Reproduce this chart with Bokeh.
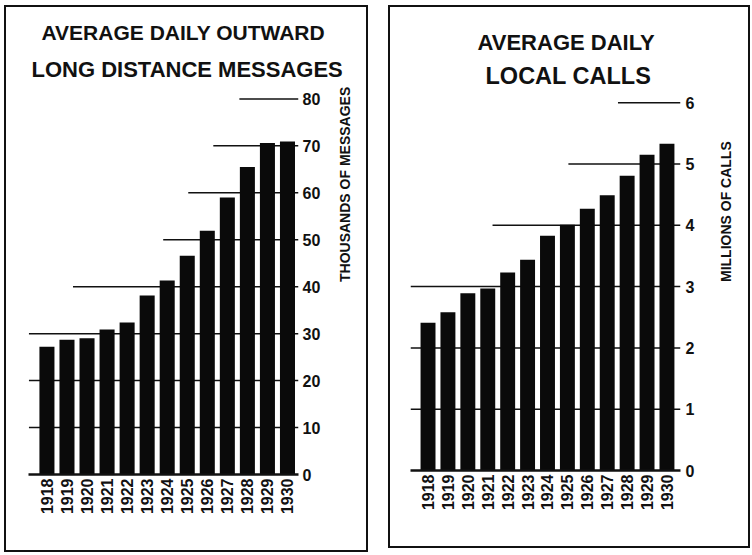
import math
from bokeh.plotting import figure
from bokeh.layouts import row, column
from bokeh.models import FixedTicker, Title, Range1d
from bokeh.embed import file_html
from bokeh.resources import INLINE

# ---- data ----
years = [1918, 1919, 1920, 1921, 1922, 1923, 1924, 1925, 1926, 1927, 1928, 1929, 1930]
long_distance_thousands = [27.2, 28.7, 29.0, 30.9, 32.4, 38.1, 41.3, 46.6, 51.9, 59.0, 65.5, 70.6, 70.9]
local_calls_millions = [2.41, 2.58, 2.89, 2.97, 3.23, 3.44, 3.83, 4.01, 4.27, 4.49, 4.81, 5.15, 5.33]

ld_ticks = [0, 10, 20, 30, 40, 50, 60, 70, 80]
lc_ticks = [0, 1, 2, 3, 4, 5, 6]

# reference lines (value, year at which the drawn line begins)
ld_grid = [10, 20, 30, 40, 50, 60, 70, 80]
ld_grid_from = [1917.1, 1917.1, 1917.1, 1919.3, 1923.8, 1925.05, 1926.3, 1927.6]
lc_grid = [1, 2, 3, 4, 5, 6]
lc_grid_from = [1917.12, 1917.12, 1917.12, 1921.24, 1925.05, 1927.54]

FONT = "Liberation Sans"


def make_panel(values, ticks, grid, grid_from, title1, title2, axis_label,
               width, height, x_range, y_end, borders,
               t1_off, t2_off, t1_size, t2_size, t1_stand, t2_stand,
               tick_stand, lab_stand):
    p = figure(width=width, height=height, x_range=Range1d(*x_range),
               y_range=Range1d(0, y_end), y_axis_location="right",
               toolbar_location=None, output_backend="svg", title=None,
               min_border_left=borders[0], min_border_right=borders[1],
               min_border_top=borders[2], min_border_bottom=borders[3])
    p.outline_line_color = None
    p.xgrid.visible = False
    p.ygrid.visible = False

    p.segment(x0=grid_from, x1=[x_range[1]] * len(grid), y0=grid, y1=grid,
              line_color="#111", line_width=1.5)
    p.vbar(x=years, top=values, width=0.75, fill_color="#0a0a0a", line_color=None)

    xa = p.xaxis[0]
    xa.ticker = FixedTicker(ticks=years)
    xa.major_label_orientation = math.pi / 2
    xa.axis_line_width = 2.5
    xa.axis_line_color = "#111"
    xa.major_tick_line_color = None
    xa.minor_tick_line_color = None
    xa.major_tick_out = 0
    xa.major_tick_in = 0
    xa.minor_tick_out = 0
    xa.major_label_standoff = 4
    xa.major_label_text_font = FONT
    xa.major_label_text_font_style = "bold"
    xa.major_label_text_font_size = "16px"
    xa.major_label_text_color = "#111"

    ya = p.yaxis[0]
    ya.ticker = FixedTicker(ticks=ticks)
    ya.axis_line_color = None
    ya.major_tick_line_color = None
    ya.minor_tick_line_color = None
    ya.major_tick_out = 0
    ya.major_tick_in = 0
    ya.minor_tick_out = 0
    ya.major_label_standoff = tick_stand
    ya.major_label_text_font = FONT
    ya.major_label_text_font_style = "bold"
    ya.major_label_text_font_size = "16px"
    ya.major_label_text_color = "#111"
    ya.axis_label = axis_label
    ya.axis_label_standoff = lab_stand
    ya.axis_label_text_font = FONT
    ya.axis_label_text_font_style = "bold"
    ya.axis_label_text_font_size = "14px"
    ya.axis_label_text_color = "#111"
    if "axis_label_orientation" in ya.properties():
        ya.axis_label_orientation = math.pi / 2

    t2 = Title(text=title2, align="left", offset=t2_off, text_font=FONT,
               text_font_size=t2_size, text_font_style="bold", text_color="#111",
               standoff=t2_stand)
    t1 = Title(text=title1, align="left", offset=t1_off, text_font=FONT,
               text_font_size=t1_size, text_font_style="bold", text_color="#111",
               standoff=t1_stand)
    p.add_layout(t2, "above")
    p.add_layout(t1, "above")
    return p


p1 = make_panel(long_distance_thousands, ld_ticks, ld_grid, ld_grid_from,
                "AVERAGE DAILY  OUTWARD", "LONG DISTANCE MESSAGES",
                "THOUSANDS OF MESSAGES", 360, 543, (1917.08, 1930.55), 82,
                (22, 68, 82, 76), 13, 3, "21px", "22px", 6, 16, 4, 22)
p2 = make_panel(local_calls_millions, lc_ticks, lc_grid, lc_grid_from,
                "AVERAGE DAILY", "LOCAL CALLS",
                "MILLIONS OF CALLS", 358, 539, (1917.12, 1930.68), 6.15,
                (20, 68, 86, 76), 67, 75, "22px", "23.5px", 1, 10, 5, 29)

box_style = {"border": "2px solid #111", "background-color": "white"}
w1 = column(p1, styles=box_style, margin=(5, 0, 0, 4))
w2 = column(p2, styles=box_style, margin=(5, 0, 0, 0))

layout = row(w1, w2, spacing=20)
open("out.html", "w").write(file_html(layout, INLINE))
